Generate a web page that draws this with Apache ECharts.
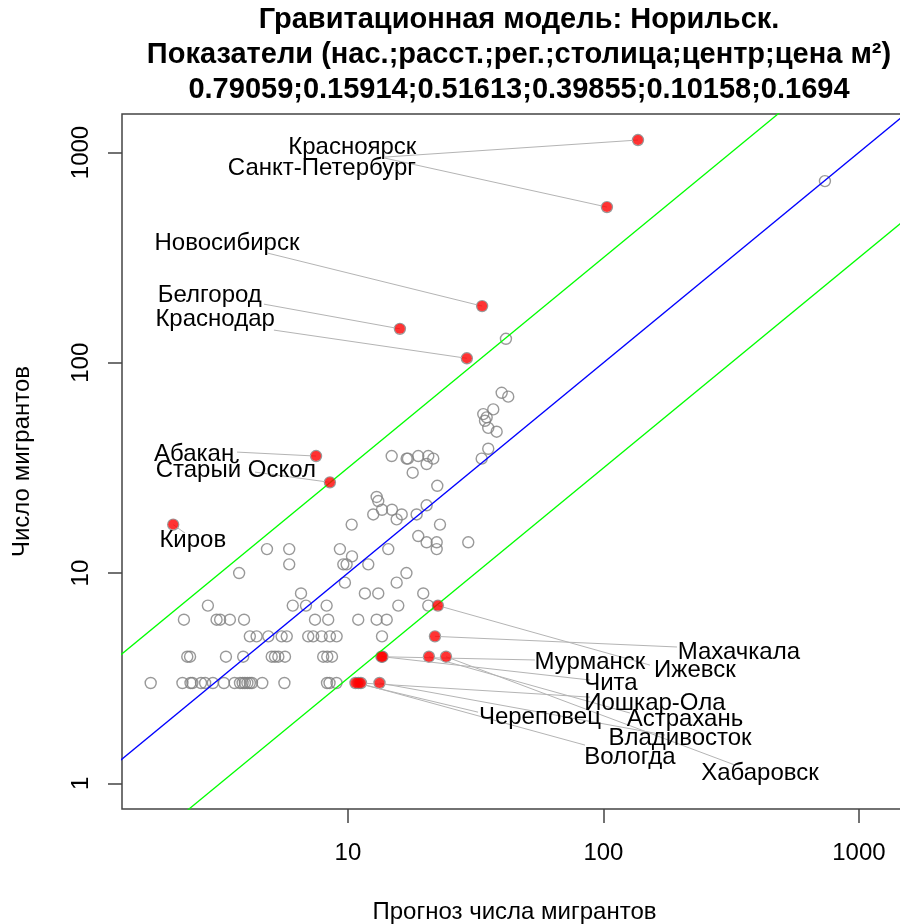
<!DOCTYPE html>
<html>
<head>
<meta charset="utf-8">
<script src="https://cdn.jsdelivr.net/npm/echarts@6/dist/echarts.min.js"></script>
<style>
  html, body { margin: 0; padding: 0; background: #fff; }
  #chart { width: 900px; height: 924px; }
</style>
</head>
<body>
<div id="chart"></div>
<script>
// прочие города: прогноз и фактическое число мигрантов
const otherPred = [
  1.69, 2.25, 2.42, 2.46, 2.66, 2.76, 2.96, 3.27, 3.6, 3.78, 3.87, 3.95, 4.04, 4.13, 4.21, 4.62, 5.64, 8.28, 8.47, 9.02,
  2.35, 2.41, 3.33, 3.89, 5.03, 5.18, 5.34, 5.67, 8.0, 8.3, 8.66,
  4.13, 4.39, 4.88, 5.5, 5.76, 6.99, 7.31, 7.89, 8.5, 9.03, 13.59,
  2.28, 3.06, 3.16, 3.45, 3.92, 7.43, 8.37, 10.97, 12.95, 14.18,
  2.83, 6.08, 6.85, 8.25, 15.74, 20.62,
  6.55, 11.65, 13.14, 19.71,
  9.73, 15.51,
  3.75, 16.94,
  5.89, 9.59, 9.88, 12.01,
  10.37,
  4.82, 5.89, 9.3, 14.38, 22.25,
  20.32, 22.25, 29.57,
  18.84,
  10.34, 22.92,
  15.51,
  12.56, 16.23, 18.57,
  13.59, 14.87,
  20.32, 13.14, 12.95, 22.37, 17.92, 20.32,
  16.97, 17.17, 21.57, 33.37,
  14.83, 18.84, 20.62,
  35.41, 38.19, 35.41, 34.38, 34.91, 33.85, 37.04, 42.4, 39.96, 41.53, 736
];
const otherObs = [
  3, 3, 3, 3, 3, 3, 3, 3, 3, 3, 3, 3, 3, 3, 3, 3, 3, 3, 3, 3,
  4, 4, 4, 4, 4, 4, 4, 4, 4, 4, 4,
  5, 5, 5, 5, 5, 5, 5, 5, 5, 5, 5,
  6, 6, 6, 6, 6, 6, 6, 6, 6, 6,
  7, 7, 7, 7, 7, 7,
  8, 8, 8, 8,
  9, 9,
  10, 10,
  11, 11, 11, 11,
  12,
  13, 13, 13, 13, 13,
  14, 14, 14,
  15,
  17, 17,
  18,
  19, 19, 19,
  20, 20,
  21, 22, 23, 26, 30, 33,
  35, 35, 35, 35,
  36, 36, 36,
  39, 47, 49, 53, 55, 57, 60, 69, 72, 130, 731
];

// подписанные города
const cityNames = ['Красноярск', 'Санкт-Петербург', 'Новосибирск', 'Белгород', 'Краснодар', 'Абакан',
  'Старый Оскол', 'Киров', 'Махачкала', 'Мурманск', 'Ижевск', 'Чита', 'Иошкар-Ола', 'Череповец',
  'Астрахань', 'Владивосток', 'Вологда', 'Хабаровск'];
const cityPred = [136.5, 103.2, 33.5, 15.97, 29.2, 7.5, 8.5, 2.07, 21.9, 13.52, 22.5, 13.65, 11.24, 10.7, 20.75, 13.29, 10.99, 24.2];
const cityObs = [1146, 550, 186, 145, 105, 36, 27, 17, 5, 4, 7, 4, 3, 3, 4, 3, 3, 4];
// где стоят подписи (в единицах осей)
const labelPred = [10.4, 7.91, 3.36, 2.88, 3.02, 2.5, 3.64, 2.47, 338.8, 88.5, 228, 107, 159, 56.4, 208.4, 199.3, 127, 409.8];
const labelObs = [1061, 843, 371, 210, 160, 36.8, 30.9, 14.35, 4.21, 3.775, 3.458, 3.0, 2.41, 2.067, 2.022, 1.642, 1.334, 1.119];
// концы выносных линий
const linePred = [13.96, 13.96, 4.86, 4.69, 5.13, 3.68, 4.33, 2.3, 194, 53.9, 152, 88.5, 88.5, 32.3, 127, 174, 84.7, 327];
const lineObs = [951, 940, 332, 190, 143, 37.6, 30.2, 15.5, 4.45, 3.86, 3.65, 3.10, 2.57, 2.18, 2.16, 1.697, 1.52, 1.222];

const tickValues = [10, 100, 1000];
const yTickValues = [1, 10, 100, 1000];
const bandFactor = Math.sqrt(10);

const FONT = '"Liberation Sans", Arial, sans-serif';

const allPoints = otherPred.map((p, i) => [p, otherObs[i]])
  .concat(cityPred.map((p, i) => [p, cityObs[i]]));

function refLine(k) {
  return [[0.2, 0.2 * k], [5000, 5000 * k]];
}

const myChart = echarts.init(document.getElementById('chart'));

const option = {
  animation: false,
  backgroundColor: '#fff',
  title: {
    text: 'Гравитационная модель: Норильск.\nПоказатели (нас.;расст.;рег.;столица;центр;цена м²)\n0.79059;0.15914;0.51613;0.39855;0.10158;0.1694',
    left: 514,
    top: -3,
    textAlign: 'center',
    textStyle: { fontFamily: FONT, fontWeight: 'bold', fontSize: 29, lineHeight: 35, color: '#000' }
  },
  grid: {
    left: 122, top: 114, width: 785, height: 695,
    outerBoundsMode: 'none', containLabel: false,
    show: true, borderColor: '#444', borderWidth: 1.5, backgroundColor: 'transparent'
  },
  xAxis: {
    type: 'log', logBase: 10,
    min: 1.305, max: 1542,
    name: 'Прогноз числа мигрантов',
    nameLocation: 'middle', nameGap: 91,
    nameTextStyle: { fontFamily: FONT, fontSize: 24, color: '#000' },
    axisLine: { show: false },
    axisTick: { show: true, customValues: tickValues, length: 14, lineStyle: { color: '#444', width: 1.5 } },
    axisLabel: {
      customValues: tickValues, margin: 32, fontFamily: FONT, fontSize: 24, color: '#000',
      formatter: v => String(v)
    },
    splitLine: { show: false },
    minorTick: { show: false }
  },
  yAxis: {
    type: 'log', logBase: 10,
    min: 0.755, max: 1524,
    name: 'Число мигрантов',
    nameLocation: 'middle', nameGap: 88, nameRotate: 90,
    nameTextStyle: { fontFamily: FONT, fontSize: 24, color: '#000' },
    axisLine: { show: false },
    axisTick: { show: true, customValues: yTickValues, length: 14, lineStyle: { color: '#444', width: 1.5 } },
    axisLabel: {
      customValues: yTickValues, rotate: 90, margin: 29, fontFamily: FONT, fontSize: 24, color: '#000',
      formatter: v => String(v)
    },
    splitLine: { show: false },
    minorTick: { show: false }
  },
  series: [
    {
      type: 'scatter',
      data: allPoints,
      symbol: 'circle',
      symbolSize: 11,
      itemStyle: { color: 'rgba(0,0,0,0)', borderColor: '#7f7f7f', borderWidth: 1.4 },
      z: 2
    },
    {
      type: 'line', data: refLine(1), showSymbol: false, clip: true,
      lineStyle: { color: '#0000ff', width: 1.3 }, z: 3
    },
    {
      type: 'line', data: refLine(bandFactor), showSymbol: false, clip: true,
      lineStyle: { color: '#00ff00', width: 1.3 }, z: 3
    },
    {
      type: 'line', data: refLine(1 / bandFactor), showSymbol: false, clip: true,
      lineStyle: { color: '#00ff00', width: 1.3 }, z: 3
    },
    {
      type: 'lines',
      coordinateSystem: 'cartesian2d',
      data: cityPred.map((p, i) => ({ coords: [[p, cityObs[i]], [linePred[i], lineObs[i]]] })),
      lineStyle: { color: '#b4b4b4', width: 1, opacity: 1 },
      z: 4
    },
    {
      type: 'scatter',
      data: cityPred.map((p, i) => [p, cityObs[i]]),
      symbol: 'circle',
      symbolSize: 10,
      itemStyle: { color: '#ff0000' },
      z: 5
    },
    {
      type: 'scatter',
      data: cityNames.map((n, i) => ({ name: n, value: [labelPred[i], labelObs[i]] })),
      symbolSize: 0,
      itemStyle: { color: '#000' },
      label: {
        show: true, position: 'inside', formatter: '{b}',
        fontFamily: FONT, fontSize: 24, color: '#000', opacity: 1, textBorderWidth: 0
      },
      z: 6
    }
  ]
};

myChart.setOption(option);
</script>
</body>
</html>
